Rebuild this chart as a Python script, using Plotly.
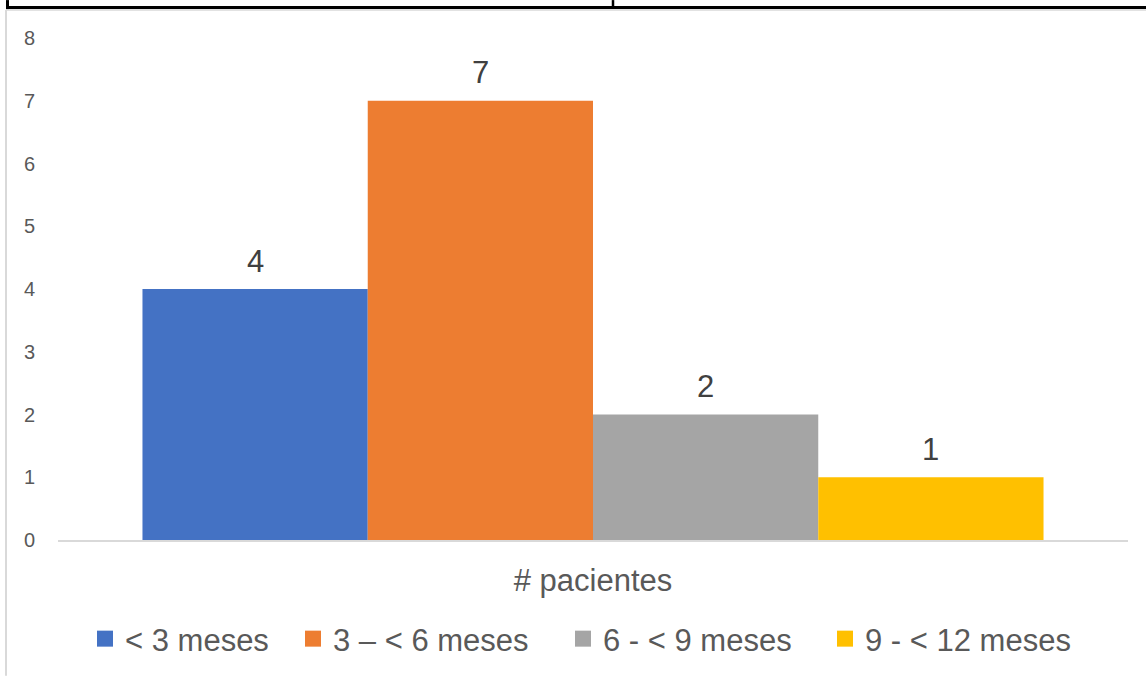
import plotly.graph_objects as go

categories = ["< 3 meses", "3 – < 6 meses", "6 - < 9 meses", "9 - < 12 meses"]
values = [4, 7, 2, 1]
colors = ["#4472C4", "#ED7D31", "#A5A5A5", "#FFC000"]
group_label = "# pacientes"
y_ticks = list(range(0, 9))

# legend swatch left edges (px) for layout
legend_left_px = [97, 305, 575, 837]

W, H = 1146, 677
L, R, T, B = 58, 18, 38, 136
PW, PH = W - L - R, H - T - B

def px_x(p):
    return (p - L) / PW

def px_y(p):
    return (H - B - p) / PH

FONT = "Liberation Sans, Arial, sans-serif"
LEG_OFF = 12  # swatch left offset from legend box left

fig = go.Figure()
positions = list(range(len(categories)))
legend_ids = ["legend", "legend2", "legend3", "legend4"]
for i, (cat, val, col) in enumerate(zip(categories, values, colors)):
    fig.add_trace(go.Bar(x=[positions[i]], y=[val], width=1, marker=dict(color=col, line=dict(width=0)),
                         name=cat, showlegend=False, hoverinfo="y"))
    fig.add_trace(go.Scatter(x=[None], y=[None], mode="markers", name=cat, legend=legend_ids[i],
                             marker=dict(symbol="square", size=17, color=col)))
    fig.add_annotation(x=positions[i], y=val, xref="x", yref="y", text=str(val), showarrow=False,
                       yanchor="middle", yshift=28, font=dict(size=31, color="#404040", family=FONT))

center = (positions[0] + positions[-1]) / 2
half = (len(categories) / 2) + 0.375

legend_style = dict(orientation="h", yanchor="middle", y=px_y(639),
                    font=dict(size=31, color="#595959", family=FONT), itemclick=False,
                    bgcolor="rgba(0,0,0,0)")
legends = {}
for i, lid in enumerate(legend_ids):
    legends[lid] = dict(legend_style, x=px_x(legend_left_px[i] - LEG_OFF), xanchor="left")

fig.update_layout(
    width=W, height=H,
    margin=dict(l=L, r=R, t=T, b=B),
    paper_bgcolor="white", plot_bgcolor="white",
    font=dict(family=FONT, color="#595959"),
    barmode="overlay",
    showlegend=True,
    xaxis=dict(range=[center - half, center + half], tickvals=[center], ticktext=[group_label],
               showgrid=False, zeroline=False, showline=True, linecolor="#D9D9D9", linewidth=1.5,
               ticks="", tickfont=dict(size=31, color="#595959"), ticklabelstandoff=12, fixedrange=True),
    yaxis=dict(range=[0, 8], tickvals=y_ticks, showgrid=False, zeroline=False, showline=False,
               ticks="", tickfont=dict(size=20, color="#595959"), ticklabelstandoff=22, fixedrange=True),
    **legends,
)

shapes = [
    dict(x0=px_x(6), x1=px_x(1146), y0=px_y(10), y1=px_y(10), line=dict(color="#D9D9D9", width=1.5)),
    dict(x0=px_x(6), x1=px_x(6), y0=px_y(10), y1=px_y(677), line=dict(color="#D9D9D9", width=2)),
    dict(x0=px_x(6), x1=px_x(1146), y0=px_y(7.5), y1=px_y(7.5), line=dict(color="black", width=3)),
    dict(x0=px_x(7.5), x1=px_x(7.5), y0=px_y(0), y1=px_y(9), line=dict(color="black", width=3)),
    dict(x0=px_x(613), x1=px_x(613), y0=px_y(0), y1=px_y(8), line=dict(color="black", width=2.5)),
]
for s in shapes:
    fig.add_shape(type="line", xref="paper", yref="paper", layer="above", **s)

fig.write_html("out.html")
